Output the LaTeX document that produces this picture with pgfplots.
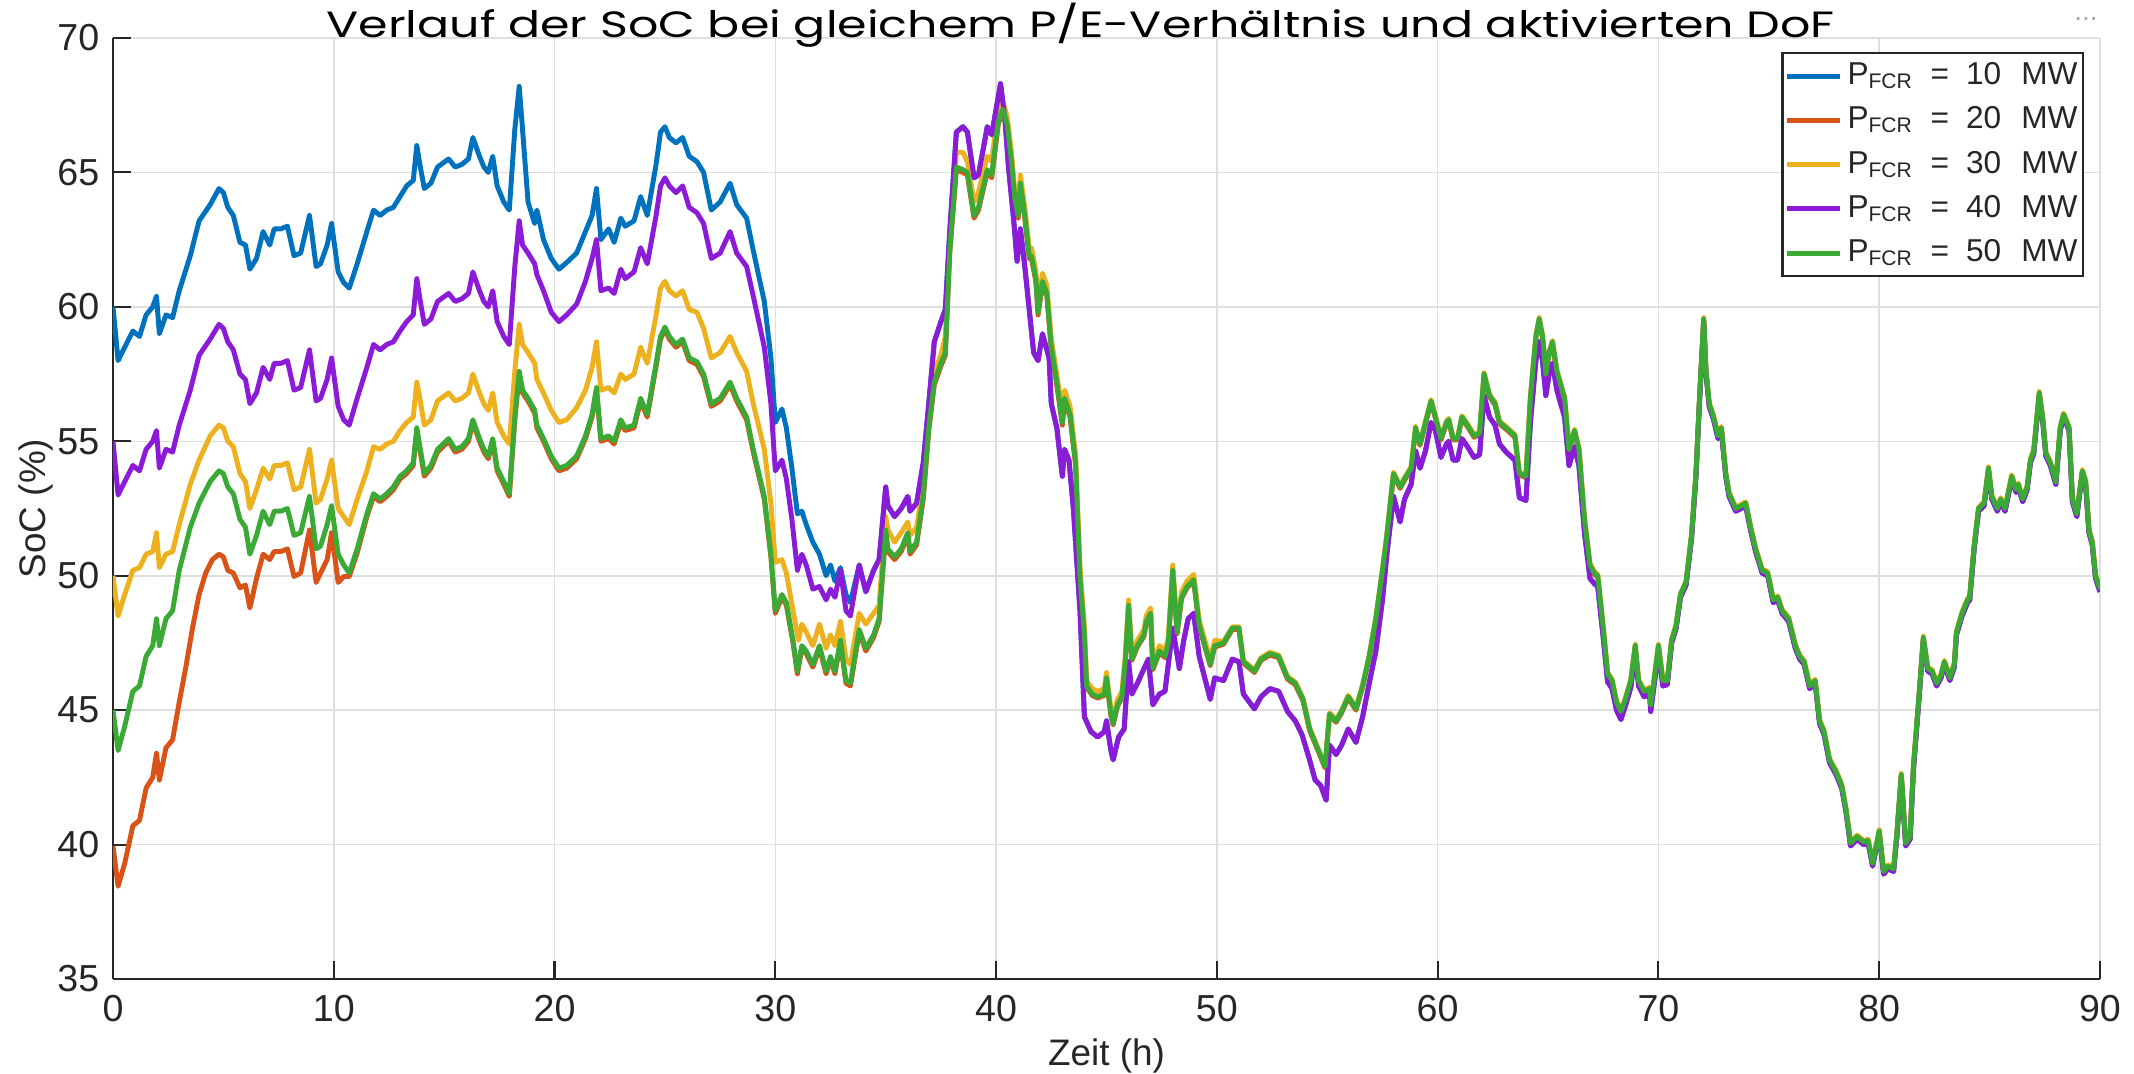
\documentclass[border=0pt]{standalone}
\usepackage{fontspec}
\setmainfont{Liberation Sans}
\newfontfamily\titlefont[FakeStretch=1.3]{Poppins}
\usepackage{pgfplots}
\pgfplotsset{compat=1.18}
\definecolor{cB}{HTML}{0072BD}
\definecolor{cO}{HTML}{D95319}
\definecolor{cY}{HTML}{EDB120}
\definecolor{cP}{HTML}{8B1BD6}
\definecolor{cG}{HTML}{3BA935}
\definecolor{axisgray}{HTML}{262626}
\definecolor{gridgray}{HTML}{DFDFDF}
\begin{document}
\begin{tikzpicture}
\useasboundingbox (-1.13,-0.94) rectangle (20.21,9.79);
\begin{axis}[
  at={(0,0)}, anchor=south west,
  scale only axis, width=19.87cm, height=9.41cm,
  xmin=0, xmax=90, ymin=35, ymax=70,
  xtick={0,10,...,90}, ytick={35,40,...,70},
  axis lines*=left,
  axis line style={draw=axisgray, line width=0.6pt},
  grid=major, major grid style={draw=gridgray, line width=0.45pt},
  tick align=inside, major tick length=0.18cm,
  tick style={draw=axisgray, line width=0.6pt},
  /pgf/number format/assume math mode=true,
  tick label style={font=\fontsize{10.7}{12}\selectfont, text=axisgray},
  yticklabel style={anchor=east, inner sep=0pt, xshift=-0.13cm},
  xticklabel style={anchor=north, inner sep=0pt, yshift=-0.16cm},
  xlabel={Zeit (h)}, ylabel={SoC (\%)},
  label style={font=\fontsize{10.5}{12}\selectfont, text=axisgray},
  xlabel style={at={(axis description cs:0.5,-0.0914)}, anchor=base},
  ylabel style={at={(axis description cs:-0.0342,0.5)}, anchor=base},
  legend style={at={(0.9919,0.9851)}, anchor=north east, draw=axisgray, line width=0.6pt, fill=white,
    font=\fontsize{9}{10}\selectfont, text=axisgray, inner xsep=0.5pt, inner ysep=1.5pt,
    row sep=2.5pt, column sep=0.5pt,
    nodes={inner xsep=1pt, inner ysep=0pt, text height=7.5pt, text depth=2.6pt}},
  legend cell align=left,
  legend image code/.code={\draw[#1, line width=1.4pt] (0cm,0cm) -- (0.53cm,0cm);},
  every axis plot/.append style={line width=1.4pt, line join=round},
]
% P_FCR = 10 MW
\addplot[cB] table[row sep=\\]{t v\\
0 60.0\\ 0.23 58.0\\ 0.53 58.5\\ 0.9 59.1\\ 1.2 58.9\\ 1.5 59.7\\ 1.8 60.0\\ 1.97 60.4\\ 2.1 59.0\\ 2.4 59.7\\ 2.7 59.6\\ 3.0 60.6\\ 3.5 61.9\\ 3.9 63.2\\ 4.4 63.8\\ 4.8 64.4\\ 5.0 64.25\\ 5.2 63.7\\ 5.45 63.4\\ 5.75 62.4\\ 6.0 62.3\\ 6.2 61.4\\ 6.5 61.8\\ 6.8 62.8\\ 7.1 62.3\\ 7.3 62.9\\ 7.6 62.9\\ 7.9 63.0\\ 8.2 61.9\\ 8.5 62.0\\ 8.9 63.4\\ 9.2 61.5\\ 9.4 61.6\\ 9.7 62.3\\ 9.9 63.1\\ 10.2 61.3\\ 10.45 60.9\\ 10.7 60.7\\ 11.06 61.6\\ 11.5 62.8\\ 11.8 63.6\\ 12.1 63.4\\ 12.4 63.6\\ 12.7 63.7\\ 13.0 64.1\\ 13.3 64.5\\ 13.6 64.7\\ 13.76 66.0\\ 13.9 65.3\\ 14.1 64.4\\ 14.4 64.6\\ 14.7 65.2\\ 15.2 65.5\\ 15.5 65.2\\ 15.8 65.3\\ 16.1 65.5\\ 16.3 66.3\\ 16.6 65.6\\ 16.8 65.2\\ 17.0 65.0\\ 17.2 65.6\\ 17.4 64.5\\ 17.7 63.9\\ 17.95 63.6\\ 18.2 66.6\\ 18.4 68.2\\ 18.55 66.6\\ 18.8 63.9\\ 19.1 63.1\\ 19.2 63.6\\ 19.5 62.5\\ 19.85 61.8\\ 20.2 61.4\\
20.55 61.65\\ 21.0 62.0\\ 21.4 62.8\\ 21.7 63.4\\ 21.9 64.4\\ 22.1 62.5\\ 22.45 62.9\\ 22.7 62.4\\ 23.0 63.3\\ 23.2 63.0\\ 23.6 63.2\\ 23.9 64.1\\ 24.2 63.4\\ 24.6 65.3\\ 24.8 66.5\\ 25.0 66.7\\ 25.2 66.3\\ 25.5 66.1\\ 25.8 66.3\\ 26.1 65.6\\ 26.45 65.4\\ 26.75 65.0\\ 27.1 63.6\\ 27.5 63.9\\ 27.95 64.6\\ 28.25 63.8\\ 28.7 63.3\\ 29.0 62.1\\ 29.5 60.2\\ 29.8 58.1\\ 30.0 55.7\\ 30.3 56.2\\ 30.5 55.5\\ 30.75 54.0\\ 31.0 52.3\\ 31.2 52.4\\ 31.4 51.9\\ 31.7 51.25\\ 32.0 50.8\\ 32.3 50.0\\ 32.5 50.4\\ 32.7 49.8\\ 32.95 50.3\\ 33.2 49.3\\ 33.4 49.0\\
33.8 50.4\\ 34.1 49.4\\ 34.45 50.2\\ 34.7 50.6\\ 35.0 53.3\\ 35.1 52.6\\ 35.4 52.2\\ 35.7 52.5\\ 36.0 52.95\\ 36.1 52.4\\ 36.4 52.7\\ 36.7 54.2\\ 36.95 56.4\\ 37.2 58.7\\ 37.5 59.45\\ 37.7 59.9\\ 37.9 62.8\\ 38.2 66.5\\ 38.5 66.7\\ 38.7 66.5\\ 39.0 64.8\\ 39.2 64.9\\ 39.6 66.7\\ 39.8 66.4\\ 40.2 68.3\\ 40.4 67.0\\ 40.55 65.3\\ 40.8 63.2\\ 40.95 61.7\\ 41.1 62.9\\ 41.3 61.5\\ 41.5 59.9\\ 41.7 58.3\\ 41.9 58.0\\ 42.1 59.0\\ 42.4 58.1\\ 42.5 56.4\\ 42.75 55.5\\ 43.0 53.7\\ 43.1 54.7\\ 43.3 54.3\\ 43.5 52.5\\ 43.8 48.7\\ 44.0 44.75\\ 44.3 44.2\\ 44.6 44.0\\ 44.9 44.2\\ 45.0 44.6\\ 45.2 43.5\\ 45.3 43.15\\ 45.55 44.0\\ 45.8 44.3\\ 46.0 46.8\\ 46.15 45.6\\ 46.4 46.0\\ 46.7 46.55\\ 46.9 46.9\\ 47.1 45.2\\ 47.4 45.6\\ 47.65 45.7\\ 48.0 48.05\\ 48.3 46.55\\ 48.5 47.6\\ 48.7 48.4\\ 48.95 48.6\\ 49.2 47.0\\ 49.7 45.4\\ 49.9 46.2\\ 50.3 46.1\\ 50.7 46.9\\ 51.0 46.8\\ 51.2 45.6\\ 51.7 45.05\\ 52.0 45.5\\ 52.4 45.8\\ 52.8 45.7\\ 53.2 44.95\\ 53.55 44.6\\ 53.85 44.1\\ 54.2 43.15\\ 54.45 42.4\\ 54.7 42.2\\ 54.95 41.65\\ 55.1 43.7\\ 55.4 43.35\\ 55.65 43.7\\ 55.95 44.3\\ 56.3 43.8\\ 56.6 44.75\\ 56.9 46.0\\ 57.2 47.2\\ 57.5 49.1\\ 57.7 50.8\\ 58.0 52.95\\ 58.3 52.0\\ 58.5 52.85\\ 58.8 53.4\\ 59.0 54.65\\ 59.2 54.0\\ 59.45 54.65\\ 59.7 55.7\\ 59.9 55.4\\ 60.15 54.4\\
60.4 54.9\\ 60.5 55.0\\ 60.7 54.3\\ 60.9 54.3\\ 61.1 55.1\\ 61.35 54.8\\ 61.65 54.4\\ 61.9 54.5\\ 62.1 56.7\\ 62.35 55.9\\ 62.6 55.6\\ 62.8 54.9\\ 63.1 54.6\\ 63.5 54.3\\ 63.7 52.9\\ 64.0 52.8\\ 64.2 55.7\\ 64.45 58.0\\ 64.6 58.7\\ 64.75 58.0\\ 64.9 56.7\\ 65.05 57.5\\ 65.2 57.9\\ 65.4 56.9\\ 65.75 55.9\\ 65.95 54.1\\ 66.2 54.8\\ 66.4 54.1\\ 66.65 51.6\\ 66.9 49.9\\ 67.1 49.7\\ 67.25 49.6\\ 67.5 47.7\\ 67.7 46.05\\ 67.9 45.8\\ 68.1 45.0\\ 68.3 44.65\\ 68.5 45.15\\ 68.75 45.85\\ 68.95 47.2\\ 69.1 45.9\\ 69.35 45.5\\ 69.6 45.6\\ 69.65 44.95\\ 69.8 45.9\\ 70.0 47.2\\ 70.2 45.9\\ 70.4 45.95\\
70.6 47.5\\ 70.8 48.05\\ 71.0 49.2\\ 71.25 49.65\\ 71.5 51.4\\ 71.7 53.7\\ 71.85 56.3\\ 72.05 59.45\\ 72.15 57.55\\ 72.3 56.3\\ 72.5 55.8\\ 72.7 55.1\\ 72.85 55.4\\ 73.05 53.7\\ 73.2 52.95\\ 73.5 52.4\\ 73.75 52.5\\ 73.95 52.6\\ 74.2 51.6\\ 74.4 50.9\\ 74.7 50.1\\ 74.95 50.0\\ 75.2 49.0\\ 75.4 49.1\\ 75.6 48.6\\ 75.9 48.3\\ 76.2 47.3\\ 76.4 46.9\\ 76.6 46.7\\ 76.85 45.8\\ 77.1 46.0\\ 77.3 44.5\\ 77.5 44.1\\ 77.75 43.05\\ 78.05 42.6\\ 78.3 42.1\\ 78.5 41.2\\ 78.7 39.95\\ 79.0 40.2\\ 79.3 40.0\\ 79.5 40.05\\ 79.7 39.2\\ 80.0 40.4\\ 80.2 38.9\\ 80.4 39.1\\ 80.65 39.0\\ 80.8 40.3\\ 81.0 42.5\\ 81.2 39.95\\ 81.4 40.2\\ 81.55 42.8\\ 81.8 45.4\\ 82.0 47.6\\ 82.2 46.45\\ 82.4 46.35\\ 82.6 45.9\\ 82.8 46.2\\ 82.95 46.7\\ 83.2 46.1\\ 83.4 46.6\\ 83.5 47.8\\ 83.75 48.5\\ 84.0 49.0\\ 84.1 49.1\\ 84.3 51.0\\ 84.5 52.4\\ 84.75 52.6\\ 84.95 53.9\\ 85.1 52.85\\ 85.35 52.4\\ 85.5 52.75\\ 85.7 52.4\\ 86.0 53.6\\ 86.2 53.1\\ 86.3 53.3\\ 86.5 52.75\\ 86.7 53.2\\ 86.85 54.2\\ 87.0 54.55\\ 87.25 56.7\\ 87.4 55.8\\ 87.55 54.45\\ 87.75 54.1\\ 88.0 53.4\\ 88.2 55.4\\ 88.35 55.9\\ 88.6 55.4\\ 88.75 52.75\\ 88.95 52.2\\ 89.2 53.8\\ 89.35 53.4\\ 89.5 51.6\\ 89.65 51.15\\ 89.8 49.9\\ 90.0 49.4\\
};
\addlegendentry{P\textsubscript{FCR}\hspace{0.17cm}=\hspace{0.17cm}10\hspace{0.2cm}MW}
% P_FCR = 20 MW
\addplot[cO] table[row sep=\\]{t v\\
0 39.95\\ 0.23 38.45\\ 0.53 39.3\\ 0.9 40.7\\ 1.2 40.9\\ 1.5 42.1\\ 1.8 42.5\\ 1.97 43.4\\ 2.1 42.4\\ 2.4 43.6\\ 2.7 43.9\\ 3.0 45.3\\ 3.3 46.6\\ 3.6 48.05\\ 3.9 49.3\\ 4.2 50.1\\ 4.5 50.6\\ 4.8 50.8\\ 5.0 50.7\\ 5.2 50.2\\ 5.45 50.1\\ 5.75 49.55\\ 6.0 49.65\\ 6.2 48.8\\ 6.5 49.9\\ 6.8 50.8\\ 7.1 50.6\\ 7.3 50.9\\ 7.6 50.9\\ 7.9 51.0\\ 8.2 49.97\\ 8.5 50.1\\ 8.9 51.7\\ 9.2 49.75\\ 9.4 50.1\\ 9.7 50.6\\ 9.9 51.6\\ 10.2 49.75\\ 10.45 49.97\\ 10.7 49.97\\ 11.06 50.85\\
11.5 52.2\\ 11.8 52.95\\ 12.1 52.75\\ 12.4 52.95\\ 12.7 53.2\\ 13.0 53.6\\ 13.3 53.8\\ 13.6 54.1\\ 13.76 55.4\\ 13.9 54.7\\ 14.1 53.7\\ 14.4 54.0\\ 14.7 54.6\\ 15.2 55.0\\ 15.5 54.6\\ 15.8 54.7\\ 16.1 55.0\\ 16.3 55.7\\ 16.6 55.0\\ 16.8 54.6\\ 17.0 54.35\\ 17.2 55.0\\ 17.4 53.9\\ 17.7 53.4\\ 17.95 52.95\\ 18.2 55.8\\ 18.4 57.5\\ 18.55 56.8\\ 18.8 56.5\\ 19.1 56.05\\ 19.2 55.5\\ 19.5 55.0\\ 19.85 54.35\\ 20.2 53.9\\ 20.55 54.0\\ 21.0 54.35\\ 21.4 55.1\\ 21.7 55.9\\ 21.9 56.9\\ 22.1 55.0\\ 22.45 55.1\\ 22.7 54.9\\ 23.0 55.7\\ 23.2 55.4\\ 23.6 55.5\\ 23.9 56.5\\ 24.2 55.9\\ 24.6 57.8\\ 24.8 58.8\\ 25.0 59.15\\ 25.2 58.8\\ 25.5 58.5\\ 25.8 58.7\\ 26.1 58.0\\ 26.45 57.86\\ 26.75 57.4\\ 27.1 56.3\\ 27.5 56.5\\ 27.95 57.1\\ 28.25 56.5\\ 28.7 55.8\\ 29.0 54.6\\ 29.5 52.85\\ 29.8 50.7\\ 30.0 48.6\\ 30.3 49.2\\ 30.5 48.9\\ 30.8 47.5\\ 31.0 46.35\\ 31.2 47.3\\ 31.4 47.1\\ 31.7 46.6\\ 32.0 47.3\\ 32.3 46.35\\ 32.5 46.9\\ 32.7 46.35\\ 32.95 47.5\\ 33.2 46.0\\ 33.4 45.9\\ 33.8 47.9\\ 34.1 47.2\\ 34.45 47.7\\ 34.7 48.3\\ 35.0 51.6\\ 35.1 50.9\\ 35.4 50.6\\ 35.7 50.9\\ 36.0 51.5\\ 36.1 50.8\\ 36.4 51.15\\ 36.7 52.85\\ 36.95 55.4\\ 37.2 57.1\\ 37.5 57.8\\ 37.7 58.2\\ 37.9 62.0\\ 38.2 65.1\\ 38.5 65.0\\ 38.7 64.9\\ 39.0 63.3\\ 39.2 63.6\\ 39.6 65.0\\ 39.8 64.8\\ 40.1 66.8\\ 40.3 67.25\\ 40.5 66.7\\ 40.7 65.3\\ 40.85 63.9\\ 41.0 63.3\\ 41.1 64.5\\ 41.3 63.3\\ 41.5 61.8\\ 41.6 61.8\\ 41.8 60.95\\ 41.9 59.7\\ 42.1 60.85\\ 42.3 60.4\\ 42.5 58.4\\ 42.75 57.1\\ 43.0 55.6\\ 43.1 56.5\\ 43.35 55.9\\ 43.6 54.1\\ 43.8 49.87\\ 44.0 47.7\\
44.1 45.85\\ 44.35 45.55\\ 44.6 45.45\\ 44.9 45.55\\ 45.0 46.15\\ 45.2 44.8\\ 45.3 44.45\\ 45.5 45.15\\ 45.7 45.45\\ 45.85 46.75\\ 46.0 48.85\\ 46.15 46.85\\ 46.4 47.35\\ 46.7 47.75\\ 46.8 48.25\\ 47.0 48.55\\ 47.1 46.5\\ 47.4 47.15\\ 47.65 46.95\\ 47.8 47.45\\ 48.0 50.15\\ 48.2 47.85\\ 48.4 49.15\\ 48.65 49.55\\ 48.95 49.8\\ 49.2 48.1\\ 49.7 46.65\\ 49.9 47.35\\ 50.3 47.45\\ 50.7 48.0\\ 51.0 48.0\\ 51.2 46.75\\ 51.7 46.4\\ 52.0 46.85\\ 52.4 47.05\\ 52.8 46.95\\ 53.2 46.15\\ 53.55 45.95\\ 53.9 45.35\\ 54.2 44.25\\ 54.5 43.65\\ 54.9 42.85\\ 55.1 44.8\\ 55.4 44.55\\ 55.65 44.9\\ 55.95 45.45\\ 56.3 45.0\\ 56.6 45.85\\ 56.9 46.95\\ 57.2 48.35\\ 57.5 50.15\\ 57.7 51.45\\ 58.0 53.75\\ 58.3 53.25\\ 58.5 53.55\\ 58.8 53.95\\ 59.0 55.45\\ 59.2 54.85\\ 59.45 55.65\\ 59.7 56.45\\ 59.9 55.85\\ 60.15 55.05\\ 60.4 55.65\\ 60.5 55.75\\ 60.7 55.05\\ 60.9 55.05\\ 61.1 55.85\\ 61.35 55.55\\ 61.65 55.15\\ 61.9 55.25\\ 62.1 57.45\\ 62.35 56.65\\ 62.6 56.35\\ 62.8 55.65\\ 63.1 55.45\\ 63.5 55.15\\ 63.7 53.75\\ 64.0 53.65\\ 64.2 56.55\\ 64.45 58.85\\ 64.6 59.5\\ 64.75 58.85\\ 64.9 57.45\\ 65.05 58.25\\ 65.2 58.65\\ 65.4 57.55\\ 65.75 56.55\\ 65.95 54.65\\ 66.2 55.35\\ 66.4 54.65\\ 66.65 52.05\\ 66.9 50.35\\ 67.1 50.05\\ 67.25 49.95\\ 67.5 48.0\\ 67.7 46.3\\ 67.9 46.05\\ 68.1 45.25\\ 68.3 44.9\\ 68.5 45.35\\ 68.75 46.05\\ 68.95 47.35\\ 69.1 46.05\\ 69.35 45.65\\ 69.6 45.75\\ 69.65 45.15\\ 69.8 46.05\\ 70.0 47.35\\ 70.2 46.05\\ 70.4 46.05\\ 70.6 47.55\\ 70.8 48.1\\ 71.0 49.25\\ 71.25 49.7\\ 71.5 51.45\\ 71.7 53.75\\ 71.85 56.35\\ 72.05 59.5\\ 72.15 57.6\\ 72.3 56.35\\ 72.5 55.85\\ 72.7 55.15\\ 72.85 55.45\\ 73.05 53.75\\ 73.2 53.0\\ 73.5 52.45\\ 73.75 52.55\\ 73.95 52.65\\ 74.2 51.65\\ 74.4 50.95\\ 74.7 50.15\\ 74.95 50.05\\ 75.2 49.05\\ 75.4 49.15\\ 75.6 48.65\\ 75.9 48.35\\ 76.2 47.35\\ 76.4 46.95\\ 76.6 46.75\\ 76.85 45.85\\ 77.1 46.05\\ 77.3 44.55\\ 77.5 44.15\\ 77.75 43.1\\ 78.05 42.65\\ 78.3 42.15\\ 78.5 41.25\\ 78.7 40.0\\ 79.0 40.25\\ 79.3 40.05\\ 79.5 40.1\\ 79.7 39.25\\ 80.0 40.45\\ 80.2 38.95\\ 80.4 39.15\\ 80.65 39.05\\ 80.8 40.35\\ 81.0 42.55\\ 81.2 40.0\\ 81.4 40.25\\ 81.55 42.85\\ 81.8 45.45\\ 82.0 47.65\\ 82.2 46.5\\ 82.4 46.4\\ 82.6 45.95\\ 82.8 46.25\\ 82.95 46.75\\ 83.2 46.15\\ 83.4 46.65\\ 83.5 47.85\\ 83.75 48.55\\ 84.0 49.05\\ 84.1 49.15\\ 84.3 51.05\\ 84.5 52.45\\ 84.75 52.65\\ 84.95 53.95\\ 85.1 52.9\\ 85.35 52.45\\ 85.5 52.8\\ 85.7 52.45\\ 86.0 53.65\\ 86.2 53.15\\ 86.3 53.35\\ 86.5 52.8\\ 86.7 53.25\\ 86.85 54.25\\ 87.0 54.6\\ 87.25 56.75\\ 87.4 55.85\\ 87.55 54.5\\ 87.75 54.15\\ 88.0 53.45\\ 88.2 55.45\\ 88.35 55.95\\ 88.6 55.45\\ 88.75 52.8\\ 88.95 52.25\\ 89.2 53.85\\ 89.35 53.45\\ 89.5 51.65\\ 89.65 51.2\\ 89.8 49.95\\ 90.0 49.45\\
};
\addlegendentry{P\textsubscript{FCR}\hspace{0.17cm}=\hspace{0.17cm}20\hspace{0.2cm}MW}
% P_FCR = 30 MW
\addplot[cY] table[row sep=\\]{t v\\
0 50.0\\ 0.23 48.5\\ 0.53 49.3\\ 0.9 50.2\\ 1.2 50.3\\ 1.5 50.8\\ 1.8 50.9\\ 1.97 51.6\\ 2.1 50.3\\ 2.4 50.8\\ 2.7 50.9\\ 3.0 51.9\\ 3.5 53.4\\ 3.9 54.3\\ 4.4 55.2\\ 4.8 55.6\\ 5.0 55.5\\ 5.2 55.0\\ 5.45 54.8\\ 5.75 53.8\\ 6.0 53.5\\ 6.2 52.5\\ 6.5 53.2\\ 6.8 54.0\\ 7.1 53.6\\ 7.3 54.1\\ 7.6 54.1\\ 7.9 54.2\\ 8.2 53.2\\ 8.5 53.3\\ 8.9 54.7\\ 9.2 52.7\\ 9.4 52.85\\ 9.7 53.6\\ 9.9 54.3\\ 10.2 52.5\\ 10.45 52.2\\ 10.7 51.9\\ 11.06 52.85\\ 11.5 53.9\\ 11.8 54.8\\ 12.1 54.7\\ 12.4 54.9\\ 12.7 55.0\\ 13.0 55.4\\ 13.3 55.7\\ 13.6 55.9\\ 13.76 57.2\\ 13.9 56.6\\ 14.1 55.6\\ 14.4 55.8\\ 14.7 56.5\\ 15.2 56.8\\ 15.5 56.5\\ 15.8 56.6\\ 16.1 56.8\\ 16.3 57.5\\ 16.6 56.8\\ 16.8 56.4\\ 17.0 56.15\\ 17.2 56.8\\ 17.4 55.7\\ 17.7 55.2\\ 17.95 54.9\\ 18.2 57.6\\ 18.4 59.35\\ 18.55 58.6\\ 18.8 58.3\\ 19.1 57.9\\ 19.2 57.3\\ 19.5 56.8\\ 19.85 56.15\\ 20.2 55.7\\
20.55 55.8\\ 21.0 56.25\\ 21.4 56.9\\ 21.7 57.75\\ 21.9 58.7\\ 22.1 56.9\\ 22.45 57.0\\ 22.7 56.8\\ 23.0 57.5\\ 23.2 57.3\\ 23.6 57.5\\ 23.9 58.5\\ 24.2 57.9\\ 24.6 59.7\\ 24.8 60.7\\ 25.0 60.95\\ 25.2 60.6\\ 25.5 60.4\\ 25.8 60.6\\ 26.1 59.9\\ 26.45 59.8\\ 26.75 59.2\\ 27.1 58.1\\ 27.5 58.3\\ 27.95 58.9\\ 28.25 58.3\\ 28.7 57.6\\ 29.0 56.4\\ 29.5 54.7\\ 29.8 52.7\\ 30.0 50.5\\ 30.3 50.6\\ 30.5 50.1\\ 30.8 48.7\\ 31.05 47.6\\ 31.2 48.2\\ 31.4 47.9\\ 31.7 47.4\\ 32.0 48.2\\ 32.3 47.3\\ 32.5 47.8\\ 32.7 47.4\\ 32.95 48.3\\ 33.2 46.9\\ 33.4 46.7\\ 33.8 48.6\\ 34.1 48.2\\ 34.45 48.6\\ 34.7 48.9\\ 35.0 52.2\\ 35.1 51.7\\ 35.4 51.25\\ 35.7 51.6\\ 36.0 52.0\\ 36.1 51.5\\ 36.4 51.8\\ 36.7 53.4\\ 36.95 55.9\\ 37.2 57.6\\ 37.5 58.2\\ 37.7 58.9\\ 37.9 62.3\\ 38.2 65.75\\ 38.5 65.75\\ 38.7 65.4\\ 39.0 63.9\\ 39.2 64.25\\ 39.6 65.6\\ 39.8 65.4\\ 40.1 67.45\\
40.3 67.65\\ 40.5 67.1\\ 40.7 65.7\\ 40.85 64.3\\ 41.0 63.7\\ 41.1 64.9\\ 41.3 63.7\\ 41.5 62.2\\ 41.6 62.2\\ 41.8 61.35\\ 41.9 60.1\\ 42.1 61.25\\ 42.3 60.8\\ 42.5 58.8\\ 42.75 57.5\\ 43.0 56.0\\ 43.1 56.9\\ 43.35 56.3\\ 43.6 54.5\\ 43.8 50.27\\ 44.0 48.1\\ 44.1 46.1\\ 44.35 45.8\\ 44.6 45.7\\ 44.9 45.8\\ 45.0 46.4\\ 45.2 45.05\\ 45.3 44.7\\ 45.5 45.4\\ 45.7 45.7\\ 45.85 47.0\\ 46.0 49.1\\ 46.15 47.1\\ 46.4 47.6\\ 46.7 48.0\\ 46.8 48.5\\ 47.0 48.8\\ 47.1 46.75\\ 47.4 47.4\\ 47.65 47.2\\ 47.8 47.7\\ 48.0 50.4\\ 48.2 48.1\\ 48.4 49.4\\ 48.65 49.8\\ 48.95 50.05\\ 49.2 48.35\\ 49.7 46.9\\ 49.9 47.6\\
50.3 47.55\\ 50.7 48.1\\ 51.0 48.1\\ 51.2 46.85\\ 51.7 46.5\\ 52.0 46.95\\ 52.4 47.15\\ 52.8 47.05\\ 53.2 46.25\\ 53.55 46.05\\ 53.9 45.45\\ 54.2 44.35\\ 54.5 43.75\\ 54.9 42.95\\ 55.1 44.9\\ 55.4 44.65\\ 55.65 45.0\\ 55.95 45.55\\ 56.3 45.1\\ 56.6 45.95\\ 56.9 47.05\\ 57.2 48.45\\ 57.5 50.25\\ 57.7 51.55\\ 58.0 53.85\\ 58.3 53.35\\ 58.5 53.65\\ 58.8 54.05\\ 59.0 55.55\\ 59.2 54.95\\ 59.45 55.75\\ 59.7 56.55\\ 59.9 55.95\\ 60.15 55.15\\ 60.4 55.75\\ 60.5 55.85\\ 60.7 55.15\\ 60.9 55.15\\ 61.1 55.95\\ 61.35 55.65\\ 61.65 55.25\\ 61.9 55.35\\ 62.1 57.55\\ 62.35 56.75\\ 62.6 56.45\\ 62.8 55.75\\ 63.1 55.55\\ 63.5 55.25\\ 63.7 53.85\\ 64.0 53.75\\ 64.2 56.65\\ 64.45 58.95\\ 64.6 59.6\\ 64.75 58.95\\ 64.9 57.55\\ 65.05 58.35\\ 65.2 58.75\\ 65.4 57.65\\ 65.75 56.65\\ 65.95 54.75\\ 66.2 55.45\\ 66.4 54.75\\ 66.65 52.15\\ 66.9 50.45\\ 67.1 50.15\\ 67.25 50.05\\ 67.5 48.1\\ 67.7 46.4\\ 67.9 46.15\\ 68.1 45.35\\ 68.3 45.0\\ 68.5 45.45\\ 68.75 46.15\\ 68.95 47.45\\ 69.1 46.15\\ 69.35 45.75\\ 69.6 45.85\\ 69.65 45.25\\ 69.8 46.15\\ 70.0 47.45\\ 70.2 46.15\\ 70.4 46.15\\ 70.6 47.65\\ 70.8 48.2\\ 71.0 49.35\\ 71.25 49.8\\ 71.5 51.55\\ 71.7 53.85\\ 71.85 56.45\\ 72.05 59.6\\ 72.15 57.7\\ 72.3 56.45\\ 72.5 55.95\\ 72.7 55.25\\ 72.85 55.55\\ 73.05 53.85\\ 73.2 53.1\\ 73.5 52.55\\ 73.75 52.65\\ 73.95 52.75\\ 74.2 51.75\\ 74.4 51.05\\ 74.7 50.25\\ 74.95 50.15\\ 75.2 49.15\\ 75.4 49.25\\ 75.6 48.75\\ 75.9 48.45\\ 76.2 47.45\\ 76.4 47.05\\ 76.6 46.85\\ 76.85 45.95\\ 77.1 46.15\\ 77.3 44.65\\ 77.5 44.25\\ 77.75 43.2\\ 78.05 42.75\\ 78.3 42.25\\ 78.5 41.35\\ 78.7 40.1\\ 79.0 40.35\\ 79.3 40.15\\ 79.5 40.2\\ 79.7 39.35\\ 80.0 40.55\\ 80.2 39.05\\ 80.4 39.25\\ 80.65 39.15\\ 80.8 40.45\\ 81.0 42.65\\ 81.2 40.1\\ 81.4 40.35\\ 81.55 42.95\\ 81.8 45.55\\ 82.0 47.75\\ 82.2 46.6\\ 82.4 46.5\\ 82.6 46.05\\ 82.8 46.35\\ 82.95 46.85\\ 83.2 46.25\\ 83.4 46.75\\ 83.5 47.95\\ 83.75 48.65\\ 84.0 49.15\\ 84.1 49.25\\ 84.3 51.15\\ 84.5 52.55\\ 84.75 52.75\\ 84.95 54.05\\ 85.1 53.0\\ 85.35 52.55\\ 85.5 52.9\\ 85.7 52.55\\ 86.0 53.75\\ 86.2 53.25\\ 86.3 53.45\\ 86.5 52.9\\ 86.7 53.35\\ 86.85 54.35\\ 87.0 54.7\\ 87.25 56.85\\ 87.4 55.95\\ 87.55 54.6\\ 87.75 54.25\\ 88.0 53.55\\ 88.2 55.55\\ 88.35 56.05\\ 88.6 55.55\\ 88.75 52.9\\ 88.95 52.35\\ 89.2 53.95\\ 89.35 53.55\\ 89.5 51.75\\ 89.65 51.3\\ 89.8 50.05\\ 90.0 49.55\\
};
\addlegendentry{P\textsubscript{FCR}\hspace{0.17cm}=\hspace{0.17cm}30\hspace{0.2cm}MW}
% P_FCR = 40 MW
\addplot[cP] table[row sep=\\]{t v\\
0 55.0\\ 0.23 53.0\\ 0.53 53.5\\ 0.9 54.1\\ 1.2 53.9\\ 1.5 54.7\\ 1.8 55.0\\ 1.97 55.4\\ 2.1 54.0\\ 2.4 54.7\\ 2.7 54.6\\ 3.0 55.6\\ 3.5 56.9\\ 3.9 58.2\\ 4.4 58.8\\ 4.8 59.35\\ 5.0 59.2\\ 5.2 58.7\\ 5.45 58.4\\ 5.75 57.5\\ 6.0 57.3\\ 6.2 56.4\\ 6.5 56.8\\ 6.8 57.75\\ 7.1 57.3\\ 7.3 57.9\\ 7.6 57.9\\ 7.9 58.0\\ 8.2 56.9\\ 8.5 57.0\\ 8.9 58.4\\ 9.2 56.5\\ 9.4 56.6\\ 9.7 57.3\\ 9.9 58.1\\ 10.2 56.3\\ 10.45 55.8\\ 10.7 55.6\\ 11.06 56.6\\ 11.5 57.75\\ 11.8 58.6\\ 12.1 58.4\\ 12.4 58.6\\ 12.7 58.7\\ 13.0 59.1\\ 13.3 59.45\\ 13.6 59.7\\ 13.76 61.05\\ 13.9 60.3\\ 14.1 59.35\\ 14.4 59.55\\ 14.7 60.2\\ 15.2 60.5\\ 15.5 60.2\\ 15.8 60.3\\ 16.1 60.5\\ 16.3 61.3\\ 16.6 60.6\\ 16.8 60.2\\ 17.0 60.0\\ 17.2 60.6\\ 17.4 59.45\\ 17.7 58.9\\ 17.95 58.6\\ 18.2 61.5\\ 18.4 63.2\\ 18.55 62.3\\ 18.8 62.0\\ 19.1 61.6\\ 19.2 61.2\\ 19.5 60.6\\ 19.85 59.8\\ 20.2 59.45\\
20.55 59.7\\ 21.0 60.1\\ 21.4 60.95\\ 21.7 61.8\\ 21.9 62.5\\ 22.1 60.6\\ 22.45 60.7\\ 22.7 60.5\\ 23.0 61.4\\ 23.2 61.05\\ 23.6 61.3\\ 23.9 62.2\\ 24.2 61.6\\ 24.6 63.4\\ 24.8 64.5\\ 25.0 64.8\\ 25.2 64.5\\ 25.5 64.25\\ 25.8 64.5\\ 26.1 63.7\\ 26.45 63.5\\ 26.75 63.1\\ 27.1 61.8\\ 27.5 62.0\\ 27.95 62.8\\ 28.25 62.0\\ 28.7 61.5\\ 29.0 60.4\\ 29.5 58.5\\ 29.8 56.4\\ 30.0 53.9\\ 30.3 54.3\\ 30.5 53.6\\ 30.75 52.1\\ 31.0 50.2\\ 31.2 50.8\\ 31.4 50.4\\ 31.7 49.5\\ 32.0 49.6\\ 32.3 49.1\\ 32.5 49.5\\ 32.7 49.2\\ 32.95 50.2\\ 33.2 48.7\\ 33.4 48.5\\
33.8 50.4\\ 34.1 49.4\\ 34.45 50.2\\ 34.7 50.6\\ 35.0 53.3\\ 35.1 52.6\\ 35.4 52.2\\ 35.7 52.5\\ 36.0 52.95\\ 36.1 52.4\\ 36.4 52.7\\ 36.7 54.2\\ 36.95 56.4\\ 37.2 58.7\\ 37.5 59.45\\ 37.7 59.9\\ 37.9 62.8\\ 38.2 66.5\\ 38.5 66.7\\ 38.7 66.5\\ 39.0 64.8\\ 39.2 64.9\\ 39.6 66.7\\ 39.8 66.4\\ 40.2 68.3\\ 40.4 67.0\\ 40.55 65.3\\ 40.8 63.2\\ 40.95 61.7\\ 41.1 62.9\\ 41.3 61.5\\ 41.5 59.9\\ 41.7 58.3\\ 41.9 58.0\\ 42.1 59.0\\ 42.4 58.1\\ 42.5 56.4\\ 42.75 55.5\\ 43.0 53.7\\ 43.1 54.7\\ 43.3 54.3\\ 43.5 52.5\\ 43.8 48.7\\ 44.0 44.75\\ 44.3 44.2\\ 44.6 44.0\\ 44.9 44.2\\ 45.0 44.6\\ 45.2 43.5\\ 45.3 43.15\\ 45.55 44.0\\ 45.8 44.3\\ 46.0 46.8\\ 46.15 45.6\\ 46.4 46.0\\ 46.7 46.55\\ 46.9 46.9\\ 47.1 45.2\\ 47.4 45.6\\ 47.65 45.7\\ 48.0 48.05\\ 48.3 46.55\\ 48.5 47.6\\ 48.7 48.4\\ 48.95 48.6\\ 49.2 47.0\\ 49.7 45.4\\ 49.9 46.2\\ 50.3 46.1\\ 50.7 46.9\\ 51.0 46.8\\ 51.2 45.6\\ 51.7 45.05\\ 52.0 45.5\\ 52.4 45.8\\ 52.8 45.7\\ 53.2 44.95\\ 53.55 44.6\\ 53.85 44.1\\ 54.2 43.15\\ 54.45 42.4\\ 54.7 42.2\\ 54.95 41.65\\ 55.1 43.7\\ 55.4 43.35\\ 55.65 43.7\\ 55.95 44.3\\ 56.3 43.8\\ 56.6 44.75\\ 56.9 46.0\\ 57.2 47.2\\ 57.5 49.1\\ 57.7 50.8\\ 58.0 52.95\\ 58.3 52.0\\ 58.5 52.85\\ 58.8 53.4\\ 59.0 54.65\\ 59.2 54.0\\ 59.45 54.65\\ 59.7 55.7\\ 59.9 55.4\\ 60.15 54.4\\
60.4 54.9\\ 60.5 55.0\\ 60.7 54.3\\ 60.9 54.3\\ 61.1 55.1\\ 61.35 54.8\\ 61.65 54.4\\ 61.9 54.5\\ 62.1 56.7\\ 62.35 55.9\\ 62.6 55.6\\ 62.8 54.9\\ 63.1 54.6\\ 63.5 54.3\\ 63.7 52.9\\ 64.0 52.8\\ 64.2 55.7\\ 64.45 58.0\\ 64.6 58.7\\ 64.75 58.0\\ 64.9 56.7\\ 65.05 57.5\\ 65.2 57.9\\ 65.4 56.9\\ 65.75 55.9\\ 65.95 54.1\\ 66.2 54.8\\ 66.4 54.1\\ 66.65 51.6\\ 66.9 49.9\\ 67.1 49.7\\ 67.25 49.6\\ 67.5 47.7\\ 67.7 46.05\\ 67.9 45.8\\ 68.1 45.0\\ 68.3 44.65\\ 68.5 45.15\\ 68.75 45.85\\ 68.95 47.2\\ 69.1 45.9\\ 69.35 45.5\\ 69.6 45.6\\ 69.65 44.95\\ 69.8 45.9\\ 70.0 47.2\\ 70.2 45.9\\ 70.4 45.95\\
70.6 47.5\\ 70.8 48.05\\ 71.0 49.2\\ 71.25 49.65\\ 71.5 51.4\\ 71.7 53.7\\ 71.85 56.3\\ 72.05 59.45\\ 72.15 57.55\\ 72.3 56.3\\ 72.5 55.8\\ 72.7 55.1\\ 72.85 55.4\\ 73.05 53.7\\ 73.2 52.95\\ 73.5 52.4\\ 73.75 52.5\\ 73.95 52.6\\ 74.2 51.6\\ 74.4 50.9\\ 74.7 50.1\\ 74.95 50.0\\ 75.2 49.0\\ 75.4 49.1\\ 75.6 48.6\\ 75.9 48.3\\ 76.2 47.3\\ 76.4 46.9\\ 76.6 46.7\\ 76.85 45.8\\ 77.1 46.0\\ 77.3 44.5\\ 77.5 44.1\\ 77.75 43.05\\ 78.05 42.6\\ 78.3 42.1\\ 78.5 41.2\\ 78.7 39.95\\ 79.0 40.2\\ 79.3 40.0\\ 79.5 40.05\\ 79.7 39.2\\ 80.0 40.4\\ 80.2 38.9\\ 80.4 39.1\\ 80.65 39.0\\ 80.8 40.3\\ 81.0 42.5\\ 81.2 39.95\\ 81.4 40.2\\ 81.55 42.8\\ 81.8 45.4\\ 82.0 47.6\\ 82.2 46.45\\ 82.4 46.35\\ 82.6 45.9\\ 82.8 46.2\\ 82.95 46.7\\ 83.2 46.1\\ 83.4 46.6\\ 83.5 47.8\\ 83.75 48.5\\ 84.0 49.0\\ 84.1 49.1\\ 84.3 51.0\\ 84.5 52.4\\ 84.75 52.6\\ 84.95 53.9\\ 85.1 52.85\\ 85.35 52.4\\ 85.5 52.75\\ 85.7 52.4\\ 86.0 53.6\\ 86.2 53.1\\ 86.3 53.3\\ 86.5 52.75\\ 86.7 53.2\\ 86.85 54.2\\ 87.0 54.55\\ 87.25 56.7\\ 87.4 55.8\\ 87.55 54.45\\ 87.75 54.1\\ 88.0 53.4\\ 88.2 55.4\\ 88.35 55.9\\ 88.6 55.4\\ 88.75 52.75\\ 88.95 52.2\\ 89.2 53.8\\ 89.35 53.4\\ 89.5 51.6\\ 89.65 51.15\\ 89.8 49.9\\ 90.0 49.4\\
};
\addlegendentry{P\textsubscript{FCR}\hspace{0.17cm}=\hspace{0.17cm}40\hspace{0.2cm}MW}
% P_FCR = 50 MW
\addplot[cG] table[row sep=\\]{t v\\
0 45.0\\ 0.23 43.5\\ 0.53 44.4\\ 0.9 45.7\\ 1.2 45.9\\ 1.5 47.0\\ 1.8 47.4\\ 1.97 48.4\\ 2.1 47.4\\ 2.4 48.4\\ 2.7 48.7\\ 3.0 50.2\\ 3.5 51.8\\ 3.9 52.7\\ 4.4 53.5\\ 4.8 53.9\\ 5.0 53.8\\ 5.2 53.3\\ 5.45 53.05\\ 5.75 52.1\\ 6.0 51.8\\ 6.2 50.8\\ 6.5 51.5\\ 6.8 52.4\\ 7.1 51.9\\ 7.3 52.4\\ 7.6 52.4\\ 7.9 52.5\\ 8.2 51.5\\ 8.5 51.6\\ 8.9 52.95\\ 9.2 51.0\\ 9.4 51.1\\ 9.7 51.9\\ 9.9 52.6\\ 10.2 50.8\\ 10.45 50.4\\ 10.7 50.1\\ 11.06 51.0\\ 11.5 52.3\\ 11.8 53.05\\ 12.1 52.85\\ 12.4 53.05\\ 12.7 53.3\\ 13.0 53.7\\ 13.3 53.9\\ 13.6 54.2\\ 13.76 55.5\\ 13.9 54.8\\ 14.1 53.8\\ 14.4 54.1\\ 14.7 54.7\\ 15.2 55.1\\ 15.5 54.7\\ 15.8 54.8\\ 16.1 55.1\\ 16.3 55.8\\ 16.6 55.1\\ 16.8 54.7\\ 17.0 54.45\\ 17.2 55.1\\ 17.4 54.0\\ 17.7 53.5\\ 17.95 53.05\\ 18.2 55.9\\ 18.4 57.6\\ 18.55 56.9\\ 18.8 56.6\\ 19.1 56.15\\ 19.2 55.6\\ 19.5 55.1\\ 19.85 54.45\\ 20.2 54.0\\
20.55 54.1\\ 21.0 54.45\\ 21.4 55.2\\ 21.7 56.0\\ 21.9 57.0\\ 22.1 55.1\\ 22.45 55.2\\ 22.7 55.0\\ 23.0 55.8\\ 23.2 55.5\\ 23.6 55.6\\ 23.9 56.6\\ 24.2 56.0\\ 24.6 57.9\\ 24.8 58.9\\ 25.0 59.25\\ 25.2 58.9\\ 25.5 58.6\\ 25.8 58.8\\ 26.1 58.1\\ 26.45 57.96\\ 26.75 57.5\\ 27.1 56.4\\ 27.5 56.6\\ 27.95 57.2\\ 28.25 56.6\\ 28.7 55.9\\ 29.0 54.7\\ 29.5 52.95\\ 29.8 50.8\\ 30.0 48.7\\ 30.3 49.3\\ 30.5 49.0\\ 30.8 47.6\\ 31.0 46.45\\ 31.2 47.4\\ 31.4 47.2\\ 31.7 46.7\\ 32.0 47.4\\ 32.3 46.45\\ 32.5 47.0\\ 32.7 46.45\\ 32.95 47.6\\ 33.2 46.1\\ 33.4 46.0\\ 33.8 48.0\\ 34.1 47.3\\ 34.45 47.8\\ 34.7 48.4\\ 35.0 51.7\\ 35.1 51.0\\ 35.4 50.7\\ 35.7 51.0\\ 36.0 51.6\\ 36.1 50.9\\ 36.4 51.25\\ 36.7 52.95\\ 36.95 55.5\\ 37.2 57.2\\ 37.5 57.9\\ 37.7 58.3\\ 37.9 62.1\\ 38.2 65.2\\ 38.5 65.1\\ 38.7 65.0\\ 39.0 63.4\\ 39.2 63.7\\ 39.6 65.1\\ 39.8 64.9\\ 40.1 66.9\\
40.3 67.35\\ 40.5 66.8\\ 40.7 65.4\\ 40.85 64.0\\ 41.0 63.4\\ 41.1 64.6\\ 41.3 63.4\\ 41.5 61.9\\ 41.6 61.9\\ 41.8 61.05\\ 41.9 59.8\\ 42.1 60.95\\ 42.3 60.5\\ 42.5 58.5\\ 42.75 57.2\\ 43.0 55.7\\ 43.1 56.6\\ 43.35 56.0\\ 43.6 54.2\\ 43.8 49.97\\ 44.0 47.8\\ 44.1 45.9\\ 44.35 45.6\\ 44.6 45.5\\ 44.9 45.6\\ 45.0 46.2\\ 45.2 44.85\\ 45.3 44.5\\ 45.5 45.2\\ 45.7 45.5\\ 45.85 46.8\\ 46.0 48.9\\ 46.15 46.9\\ 46.4 47.4\\ 46.7 47.8\\ 46.8 48.3\\ 47.0 48.6\\ 47.1 46.55\\ 47.4 47.2\\ 47.65 47.0\\ 47.8 47.5\\ 48.0 50.2\\ 48.2 47.9\\ 48.4 49.2\\ 48.65 49.6\\ 48.95 49.85\\ 49.2 48.15\\ 49.7 46.7\\ 49.9 47.4\\ 50.3 47.5\\ 50.7 48.05\\ 51.0 48.05\\ 51.2 46.8\\ 51.7 46.45\\ 52.0 46.9\\ 52.4 47.1\\ 52.8 47.0\\ 53.2 46.2\\ 53.55 46.0\\ 53.9 45.4\\ 54.2 44.3\\ 54.5 43.7\\ 54.9 42.9\\ 55.1 44.85\\ 55.4 44.6\\ 55.65 44.95\\ 55.95 45.5\\ 56.3 45.05\\ 56.6 45.9\\ 56.9 47.0\\ 57.2 48.4\\ 57.5 50.2\\ 57.7 51.5\\ 58.0 53.8\\ 58.3 53.3\\ 58.5 53.6\\ 58.8 54.0\\ 59.0 55.5\\ 59.2 54.9\\ 59.45 55.7\\ 59.7 56.5\\ 59.9 55.9\\ 60.15 55.1\\
60.4 55.7\\ 60.5 55.8\\ 60.7 55.1\\ 60.9 55.1\\ 61.1 55.9\\ 61.35 55.6\\ 61.65 55.2\\ 61.9 55.3\\ 62.1 57.5\\ 62.35 56.7\\ 62.6 56.4\\ 62.8 55.7\\ 63.1 55.5\\ 63.5 55.2\\ 63.7 53.8\\ 64.0 53.7\\ 64.2 56.6\\ 64.45 58.9\\ 64.6 59.55\\ 64.75 58.9\\ 64.9 57.5\\ 65.05 58.3\\ 65.2 58.7\\ 65.4 57.6\\ 65.75 56.6\\ 65.95 54.7\\ 66.2 55.4\\ 66.4 54.7\\ 66.65 52.1\\ 66.9 50.4\\ 67.1 50.1\\ 67.25 50.0\\ 67.5 48.05\\ 67.7 46.35\\ 67.9 46.1\\ 68.1 45.3\\ 68.3 44.95\\ 68.5 45.4\\ 68.75 46.1\\ 68.95 47.4\\ 69.1 46.1\\ 69.35 45.7\\ 69.6 45.8\\ 69.65 45.2\\ 69.8 46.1\\ 70.0 47.4\\ 70.2 46.1\\ 70.4 46.1\\ 70.6 47.6\\ 70.8 48.15\\ 71.0 49.3\\ 71.25 49.75\\ 71.5 51.5\\ 71.7 53.8\\ 71.85 56.4\\ 72.05 59.55\\ 72.15 57.65\\ 72.3 56.4\\ 72.5 55.9\\ 72.7 55.2\\ 72.85 55.5\\ 73.05 53.8\\ 73.2 53.05\\ 73.5 52.5\\ 73.75 52.6\\ 73.95 52.7\\ 74.2 51.7\\ 74.4 51.0\\ 74.7 50.2\\ 74.95 50.1\\ 75.2 49.1\\ 75.4 49.2\\ 75.6 48.7\\ 75.9 48.4\\ 76.2 47.4\\ 76.4 47.0\\ 76.6 46.8\\ 76.85 45.9\\ 77.1 46.1\\ 77.3 44.6\\ 77.5 44.2\\ 77.75 43.15\\ 78.05 42.7\\ 78.3 42.2\\ 78.5 41.3\\ 78.7 40.05\\ 79.0 40.3\\ 79.3 40.1\\ 79.5 40.15\\ 79.7 39.3\\
80.0 40.5\\ 80.2 39.0\\ 80.4 39.2\\ 80.65 39.1\\ 80.8 40.4\\ 81.0 42.6\\ 81.2 40.05\\ 81.4 40.3\\ 81.55 42.9\\ 81.8 45.5\\ 82.0 47.7\\ 82.2 46.55\\ 82.4 46.45\\ 82.6 46.0\\ 82.8 46.3\\ 82.95 46.8\\ 83.2 46.2\\ 83.4 46.7\\ 83.5 47.9\\ 83.75 48.6\\ 84.0 49.1\\ 84.1 49.2\\ 84.3 51.1\\ 84.5 52.5\\ 84.75 52.7\\ 84.95 54.0\\ 85.1 52.95\\ 85.35 52.5\\ 85.5 52.85\\ 85.7 52.5\\ 86.0 53.7\\ 86.2 53.2\\ 86.3 53.4\\ 86.5 52.85\\ 86.7 53.3\\ 86.85 54.3\\ 87.0 54.65\\ 87.25 56.8\\ 87.4 55.9\\ 87.55 54.55\\ 87.75 54.2\\ 88.0 53.5\\ 88.2 55.5\\ 88.35 56.0\\ 88.6 55.5\\ 88.75 52.85\\ 88.95 52.3\\ 89.2 53.9\\ 89.35 53.5\\ 89.5 51.7\\ 89.65 51.25\\ 89.8 50.0\\ 90.0 49.5\\
};
\addlegendentry{P\textsubscript{FCR}\hspace{0.17cm}=\hspace{0.17cm}50\hspace{0.2cm}MW}
\end{axis}
\node[anchor=base, font=\titlefont\fontsize{10.4}{12}\selectfont, text=black, inner sep=0pt] at (9.677,9.41) {Verlauf der SoC bei gleichem P/E-Verhältnis und aktivierten DoF};
\node[anchor=center, font=\fontsize{8}{8}\selectfont, text=gray!70, inner sep=0pt] at (19.73,9.6) {...};
\end{tikzpicture}
\end{document}
